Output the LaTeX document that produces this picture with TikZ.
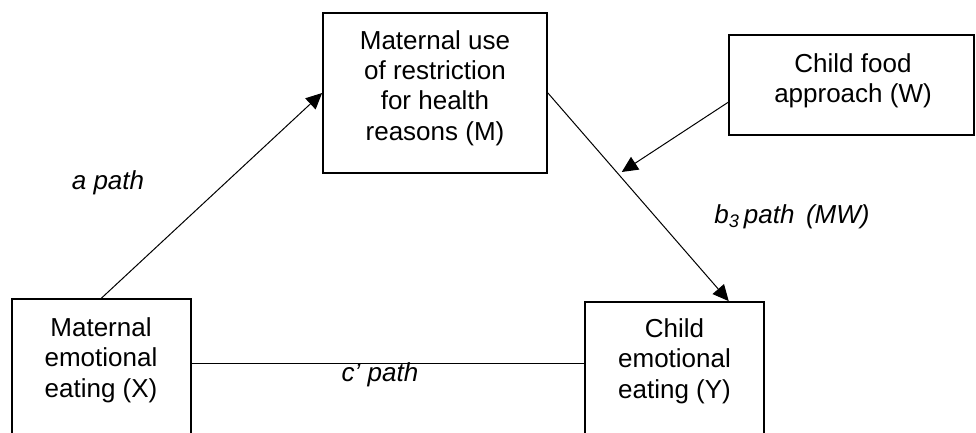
\documentclass[tikz,border=0pt]{standalone}
\usepackage{fontspec}
\setmainfont{Liberation Sans}
\usetikzlibrary{arrows.meta,calc}
\begin{document}
\begin{tikzpicture}[x=1pt,y=-1pt,
  box/.style={draw, line width=1.8pt, inner sep=0pt},
  lbl/.style={align=center, inner sep=0pt, font=\fontsize{26}{30.3}\selectfont},
  pathlbl/.style={inner sep=0pt, font=\fontsize{26}{30}\selectfont\itshape},
  conn/.style={line width=1pt},
  arr/.style={conn, -{Triangle[length=16pt,width=15pt]}}]
\useasboundingbox (0,0) rectangle (976,432);
\begin{scope}
\clip (0,0) rectangle (976,432);
% variable boxes
\node[box, minimum width=224pt, minimum height=160pt] (M) at (435,93) {};
\node[box, minimum width=245pt, minimum height=100pt] (W) at (851.5,85) {};
\node[box, minimum width=179pt, minimum height=146pt] (X) at (101.5,372) {};
\node[box, minimum width=179pt, minimum height=143pt] (Y) at (674.5,373.5) {};
% box texts
\node[lbl] (Mt) at (435,88) {Maternal use\\of restriction\\for health\\reasons (M)};
\node[lbl] (Wt) at (853,81) {Child food\\approach (W)};
\node[lbl] (Xt) at (101,360) {Maternal\\emotional\\eating (X)};
\node[lbl] (Yt) at (674.5,361) {Child\\emotional\\eating (Y)};
% path labels
\node[pathlbl] (la) at (108,183) {a path};
\node[pathlbl] (lb) at (792,217) {b\textsubscript{3}\,path\, (MW)};
\node[pathlbl] (lc) at (380,375) {c’ path};
% connectors
\coordinate (Yin) at ($(Y.north west)!0.80!(Y.north east)$);
\coordinate (Wout) at ($(W.north west)!0.67!(W.south west)$);
\coordinate (Bmid) at ($(M.east)!0.39!(Yin)$);
\coordinate (cl) at (0,363);
\draw[arr] (X.north) -- (M.west);
\draw[arr] (M.east) -- (Yin);
\draw[arr, shorten >=4pt] (Wout) -- (Bmid);
\draw[conn] (X.east |- cl) -- (Y.west |- cl);
\end{scope}
\end{tikzpicture}
\end{document}
